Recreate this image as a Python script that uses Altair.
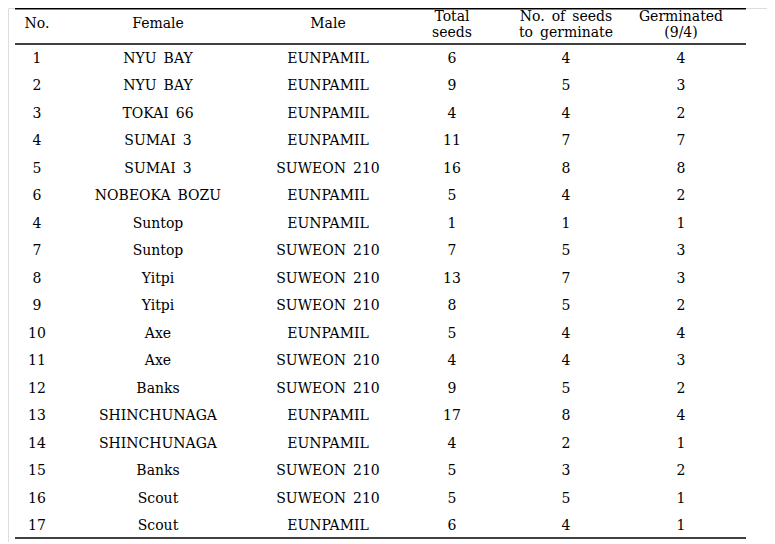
import altair as alt
import pandas as pd

# ---- table data ----
row_no = ["1", "2", "3", "4", "5", "6", "4", "7", "8", "9", "10", "11", "12",
          "13", "14", "15", "16", "17"]
female = ["NYU BAY", "NYU BAY", "TOKAI 66", "SUMAI 3", "SUMAI 3", "NOBEOKA BOZU",
          "Suntop", "Suntop", "Yitpi", "Yitpi", "Axe", "Axe", "Banks",
          "SHINCHUNAGA", "SHINCHUNAGA", "Banks", "Scout", "Scout"]
male = ["EUNPAMIL", "EUNPAMIL", "EUNPAMIL", "EUNPAMIL", "SUWEON 210", "EUNPAMIL",
        "EUNPAMIL", "SUWEON 210", "SUWEON 210", "SUWEON 210", "EUNPAMIL",
        "SUWEON 210", "SUWEON 210", "EUNPAMIL", "EUNPAMIL", "SUWEON 210",
        "SUWEON 210", "EUNPAMIL"]
total_seeds = [6, 9, 4, 11, 16, 5, 1, 7, 13, 8, 5, 4, 9, 17, 4, 5, 5, 6]
seeds_to_germinate = [4, 5, 4, 7, 8, 4, 1, 5, 7, 5, 4, 4, 5, 8, 2, 3, 5, 4]
germinated = [4, 3, 2, 7, 8, 2, 1, 3, 3, 2, 4, 3, 2, 4, 1, 2, 1, 1]

headers = [["No."], ["Female"], ["Male"], ["Total", "seeds"],
           ["No. of seeds", "to germinate"], ["Germinated", "(9/4)"]]

# ---- layout / style ----
FONT = "'DejaVu Serif', serif"
FS = 14
col_x = [29, 150, 320, 444, 558, 673]
row_range = [55, 522]

def wide(s):
    # the reference typesets word gaps wider than a normal space
    return s.replace(" ", "\u2002")

columns = [row_no, [wide(s) for s in female], [wide(s) for s in male],
           [str(v) for v in total_seeds], [str(v) for v in seeds_to_germinate],
           [str(v) for v in germinated]]

rows = list(range(len(row_no)))
yscale = alt.Scale(type="point", domain=rows, range=row_range, padding=0)

layers = []
for cx, values in zip(col_x, columns):
    df = pd.DataFrame({"row": rows, "label": values})
    layers.append(
        alt.Chart(df).mark_text(font=FONT, fontSize=FS, color="black",
                                align="center", baseline="alphabetic")
        .encode(x=alt.value(cx),
                y=alt.Y("row:O", scale=yscale, axis=None),
                text="label:N")
    )

for cx, lines in zip(col_x, headers):
    ys = [20] if len(lines) == 1 else [13, 29]
    for txt, yy in zip(lines, ys):
        layers.append(
            alt.Chart(pd.DataFrame({"t": [wide(txt)]})).mark_text(
                font=FONT, fontSize=FS, color="black", align="center",
                baseline="alphabetic")
            .encode(x=alt.value(cx), y=alt.value(yy), text="t:N")
        )

for yy in [0.75, 36, 530]:
    layers.append(
        alt.Chart(pd.DataFrame({"a": [0]})).mark_rule(color="black", strokeWidth=1.5)
        .encode(x=alt.value(7), x2=alt.value(738), y=alt.value(yy))
    )

chart = alt.layer(*layers).properties(
    width=759, height=534, autosize="none", padding=0
).configure_view(stroke=None).configure(background="white")

chart.save("out.html", embed_options={"renderer": "svg", "actions": False})
